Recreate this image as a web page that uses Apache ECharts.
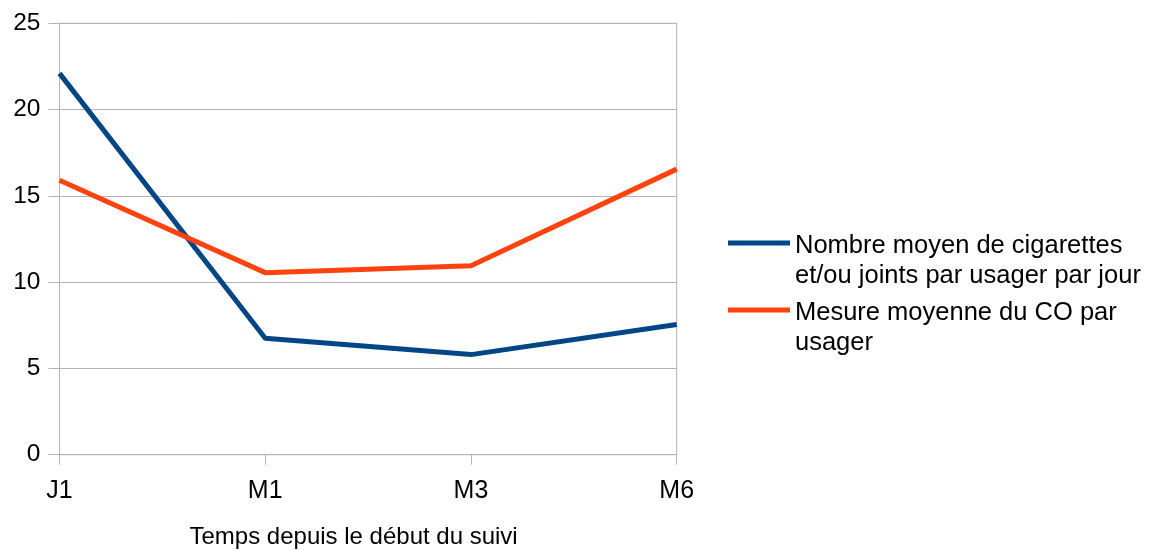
<!DOCTYPE html>
<html>
<head>
<meta charset="utf-8">
<script src="https://cdn.jsdelivr.net/npm/echarts@6/dist/echarts.min.js"></script>
<style>
html,body{margin:0;padding:0;background:#fff;}
#chart{width:1156px;height:550px;}
</style>
</head>
<body>
<div id="chart"></div>
<script>
const categories = ['J1', 'M1', 'M3', 'M6'];
const cigarettes = [22.1, 6.75, 5.8, 7.55];
const co = [15.9, 10.55, 10.95, 16.55];
const seriesNames = ['Nombre moyen de cigarettes\net/ou joints par usager par jour', 'Mesure moyenne du CO par\nusager'];
const xAxisTitle = 'Temps depuis le début du suivi';

const font = '"Liberation Sans", Arial, sans-serif';
// legend icon: a bar at the top of the icon box so it lines up with the first text line
const legendIcon = 'path://M0,0 L62,0 L62,5 L0,5 Z M0,41';
const chart = echarts.init(document.getElementById('chart'), null, {renderer: 'canvas'});
chart.setOption({
  animation: false,
  backgroundColor: '#ffffff',
  grid: {left: 59.5, right: 479.3, top: 23.3, bottom: 95.3, containLabel: false, outerBoundsMode: 'none',
         show: true, borderColor: '#b3b3b3', borderWidth: 1, backgroundColor: 'transparent'},
  legend: {
    orient: 'vertical',
    left: 728,
    top: 231,
    padding: 0,
    itemWidth: 62,
    itemHeight: 41,
    itemGap: 7,
    icon: legendIcon,
    itemStyle: {borderWidth: 0},
    data: seriesNames,
    textStyle: {fontFamily: font, fontSize: 25.5, color: '#000', lineHeight: 30}
  },
  xAxis: {
    type: 'category',
    data: categories,
    boundaryGap: false,
    name: xAxisTitle,
    nameLocation: 'middle',
    nameGap: 71,
    nameTextStyle: {fontFamily: font, fontSize: 24, color: '#000', padding: [0, 29, 0, 0]},
    axisLine: {lineStyle: {color: '#b3b3b3', width: 1}},
    axisTick: {show: true, length: 10, inside: false, lineStyle: {color: '#b3b3b3'}},
    axisLabel: {fontFamily: font, fontSize: 25, color: '#000', margin: 24},
    splitLine: {show: false}
  },
  yAxis: {
    type: 'value',
    min: 0, max: 25, interval: 5,
    axisLine: {show: true, lineStyle: {color: '#b3b3b3', width: 1}},
    axisTick: {show: true, length: 11, inside: false, lineStyle: {color: '#b3b3b3'}},
    axisLabel: {fontFamily: font, fontSize: 24.5, color: '#000', margin: 19},
    splitLine: {show: true, lineStyle: {color: '#b3b3b3', width: 1}}
  },
  series: [
    {name: seriesNames[0], type: 'line', data: cigarettes, symbol: 'none', lineStyle: {color: '#004586', width: 5}, itemStyle: {color: '#004586'}},
    {name: seriesNames[1], type: 'line', data: co, symbol: 'none', lineStyle: {color: '#ff420e', width: 5}, itemStyle: {color: '#ff420e'}}
  ]
});
</script>
</body>
</html>
